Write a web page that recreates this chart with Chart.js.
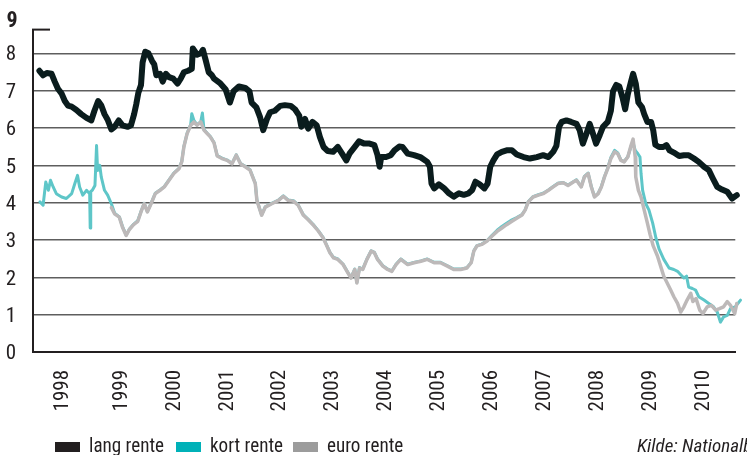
<!DOCTYPE html>
<html><head><meta charset="utf-8">
<script src="https://cdn.jsdelivr.net/npm/chart.js@4.4.1/dist/chart.umd.min.js"></script>
<style>html,body{margin:0;padding:0;background:#fff;}#wrap{position:relative;width:747px;height:455px;overflow:hidden;background:#fff}</style>
</head><body><div id="wrap"><canvas id="c" width="747" height="455"></canvas></div>
<script>
const FONT = '"Liberation Sans Narrow","Roboto Condensed","DejaVu Sans Condensed","Arial Narrow",sans-serif';
const seriesNames = ['lang rente', 'kort rente', 'euro rente'];
const yearTickPositions = [1997.89,1999,2000,2001,2002,2003,2004,2005,2006,2007,2008,2009,2010];
const yearTickLabels = ['1998','1999','2000','2001','2002','2003','2004','2005','2006','2007','2008','2009','2010'];
const yTicks = [0,1,2,3,4,5,6,7,8];
const yTopLabel = '9';
const sourceText = 'Kilde: Nationalbanken';

// [decimal year, percent]
const langRente = [
[1997.45,7.53],[1997.52,7.41],[1997.59,7.47],[1997.68,7.45],[1997.74,7.24],[1997.80,7.05],[1997.87,6.92],[1997.93,6.72],[1997.99,6.60],
[1998.06,6.57],[1998.15,6.48],[1998.24,6.37],[1998.34,6.27],[1998.43,6.20],[1998.49,6.46],[1998.56,6.72],[1998.62,6.60],[1998.68,6.37],[1998.74,6.22],[1998.81,5.96],[1998.87,6.03],[1998.95,6.20],
[1999.02,6.07],[1999.12,6.03],[1999.18,6.07],[1999.24,6.37],[1999.28,6.63],[1999.32,6.94],[1999.37,7.15],[1999.40,7.75],[1999.45,8.04],[1999.51,8.00],[1999.58,7.79],[1999.62,7.70],[1999.66,7.41],[1999.73,7.45],[1999.78,7.24],[1999.84,7.45],[1999.90,7.36],[1999.98,7.32],
[2000.06,7.19],[2000.12,7.32],[2000.18,7.49],[2000.26,7.53],[2000.33,7.58],[2000.35,8.13],[2000.43,7.96],[2000.50,8.00],[2000.54,8.09],[2000.59,7.83],[2000.65,7.49],[2000.71,7.41],[2000.75,7.32],[2000.87,7.19],[2000.97,7.03],
[2001.05,6.68],[2001.12,6.98],[2001.22,7.11],[2001.34,7.07],[2001.42,6.98],[2001.46,6.68],[2001.55,6.55],[2001.62,6.29],[2001.68,5.94],[2001.75,6.24],[2001.81,6.42],[2001.90,6.46],
[2002.00,6.59],[2002.09,6.61],[2002.20,6.59],[2002.28,6.50],[2002.36,6.33],[2002.40,6.03],[2002.47,6.24],[2002.53,5.98],[2002.61,6.16],[2002.69,6.07],[2002.75,5.76],[2002.82,5.49],[2002.90,5.38],
[2003.00,5.36],[2003.09,5.49],[2003.17,5.31],[2003.25,5.13],[2003.31,5.31],[2003.41,5.49],[2003.49,5.64],[2003.59,5.58],[2003.69,5.58],[2003.78,5.54],[2003.84,5.27],[2003.88,4.96],[2003.91,5.22],
[2004.00,5.22],[2004.09,5.27],[2004.16,5.40],[2004.25,5.50],[2004.31,5.49],[2004.41,5.31],[2004.53,5.27],[2004.66,5.21],[2004.78,5.09],[2004.83,4.96],[2004.86,4.51],[2004.91,4.38],
[2005.00,4.49],[2005.10,4.38],[2005.19,4.25],[2005.28,4.16],[2005.38,4.25],[2005.47,4.21],[2005.56,4.25],[2005.63,4.34],[2005.69,4.56],[2005.77,4.49],[2005.86,4.38],[2005.92,4.51],[2005.97,4.96],
[2006.03,5.13],[2006.10,5.29],[2006.19,5.36],[2006.28,5.40],[2006.38,5.40],[2006.47,5.29],[2006.60,5.22],[2006.72,5.18],[2006.85,5.22],[2006.97,5.27],
[2007.07,5.22],[2007.16,5.36],[2007.22,5.52],[2007.27,6.03],[2007.32,6.16],[2007.41,6.20],[2007.50,6.16],[2007.60,6.11],[2007.66,5.94],[2007.72,5.58],[2007.79,5.85],[2007.85,6.11],[2007.91,5.85],[2007.97,5.58],
[2008.04,5.81],[2008.10,6.03],[2008.19,6.16],[2008.25,6.46],[2008.29,6.98],[2008.35,7.15],[2008.41,7.11],[2008.47,6.81],[2008.52,6.50],[2008.57,6.90],[2008.63,7.24],[2008.67,7.45],[2008.72,7.19],[2008.77,6.68],[2008.84,6.55],[2008.88,6.37],[2008.94,6.16],
[2009.01,6.16],[2009.05,5.94],[2009.09,5.55],[2009.16,5.49],[2009.24,5.49],[2009.30,5.54],[2009.36,5.40],[2009.44,5.34],[2009.54,5.25],[2009.63,5.27],[2009.72,5.27],[2009.82,5.18],[2009.91,5.09],
[2010.01,4.96],[2010.10,4.87],[2010.18,4.64],[2010.26,4.42],[2010.35,4.35],[2010.45,4.29],[2010.54,4.11],[2010.63,4.20],[2010.71,4.22]
];

const kortRente = [
[1997.46,4.02],[1997.52,3.93],[1997.57,4.55],[1997.62,4.33],[1997.66,4.60],[1997.71,4.42],[1997.77,4.24],[1997.87,4.15],[1997.96,4.11],
[1998.06,4.24],[1998.12,4.51],[1998.17,4.73],[1998.21,4.42],[1998.27,4.20],[1998.34,4.33],[1998.40,4.24],[1998.41,3.32],[1998.42,4.30],[1998.45,4.33],[1998.50,4.46],[1998.53,5.53],[1998.55,4.86],[1998.59,5.00],[1998.62,4.68],[1998.68,4.33],[1998.74,4.20],[1998.81,3.97],[1998.87,3.72],[1998.96,3.62],
[1999.02,3.36],[1999.09,3.13],[1999.15,3.29],[1999.23,3.42],[1999.31,3.52],[1999.37,3.76],[1999.43,3.98],[1999.49,3.76],[1999.56,3.98],[1999.64,4.25],[1999.73,4.34],[1999.81,4.43],[1999.90,4.61],[1999.99,4.79],
[2000.09,4.92],[2000.14,5.10],[2000.18,5.50],[2000.24,5.85],[2000.31,6.10],[2000.33,6.38],[2000.37,6.20],[2000.43,6.08],[2000.50,6.17],[2000.53,6.40],[2000.56,5.96],[2000.62,5.86],[2000.68,5.77],[2000.75,5.61],[2000.81,5.26],[2000.90,5.19],
[2001.00,5.14],[2001.09,5.05],[2001.17,5.28],[2001.25,5.05],[2001.34,4.97],[2001.43,4.88],[2001.53,4.52],[2001.56,4.07],[2001.65,3.67],[2001.72,3.89],[2001.84,3.98],[2001.97,4.07],
[2002.06,4.18],[2002.15,4.07],[2002.25,4.05],[2002.34,3.94],[2002.44,3.67],[2002.53,3.55],[2002.62,3.42],[2002.72,3.25],[2002.81,3.07],[2002.87,2.89],[2002.94,2.67],
[2003.01,2.53],[2003.09,2.49],[2003.19,2.35],[2003.28,2.13],[2003.34,1.99],[2003.41,2.22],[2003.45,1.86],[2003.50,2.26],[2003.56,2.22],[2003.64,2.49],[2003.72,2.71],[2003.78,2.67],[2003.84,2.49],[2003.94,2.31],
[2004.03,2.22],[2004.11,2.17],[2004.19,2.35],[2004.28,2.49],[2004.41,2.35],[2004.53,2.40],[2004.66,2.44],[2004.78,2.49],[2004.91,2.40],
[2005.03,2.40],[2005.16,2.31],[2005.28,2.22],[2005.41,2.22],[2005.53,2.26],[2005.61,2.40],[2005.66,2.71],[2005.72,2.85],[2005.81,2.89],[2005.91,2.98],
[2006.00,3.12],[2006.10,3.26],[2006.19,3.36],[2006.28,3.45],[2006.38,3.54],[2006.47,3.60],[2006.57,3.68],[2006.63,3.81],[2006.69,4.03],[2006.78,4.16],[2006.88,4.21],[2006.97,4.25],
[2007.07,4.34],[2007.16,4.43],[2007.25,4.52],[2007.35,4.54],[2007.44,4.47],[2007.54,4.56],[2007.60,4.61],[2007.69,4.43],[2007.75,4.70],[2007.82,4.79],[2007.88,4.43],[2007.94,4.16],
[2008.01,4.25],[2008.07,4.43],[2008.13,4.70],[2008.19,4.92],[2008.25,5.21],[2008.32,5.40],[2008.38,5.33],[2008.44,5.14],[2008.50,5.10],[2008.57,5.23],[2008.63,5.50],[2008.67,5.60],[2008.71,5.40],[2008.76,5.31],[2008.80,5.22],[2008.82,4.78],[2008.85,4.33],[2008.91,3.97],[2008.97,3.80],
[2009.04,3.45],[2009.10,3.06],[2009.16,2.76],[2009.25,2.48],[2009.35,2.25],[2009.44,2.21],[2009.51,2.16],[2009.57,2.07],[2009.63,1.98],[2009.68,2.03],[2009.72,1.74],[2009.79,1.70],[2009.85,1.66],[2009.91,1.48],
[2010.01,1.39],[2010.10,1.30],[2010.19,1.21],[2010.26,1.07],[2010.32,0.80],[2010.38,0.94],[2010.45,0.98],[2010.51,1.16],[2010.60,1.21],[2010.70,1.39]
];

const euroRente = [
[1998.81,3.87],[1998.87,3.70],[1998.96,3.61],
[1999.02,3.34],[1999.09,3.12],[1999.15,3.28],[1999.23,3.41],[1999.31,3.50],[1999.37,3.75],[1999.43,3.97],[1999.49,3.75],[1999.56,3.97],[1999.64,4.24],[1999.73,4.33],[1999.81,4.42],[1999.90,4.60],[1999.99,4.78],
[2000.09,4.91],[2000.14,5.09],[2000.18,5.49],[2000.24,5.84],[2000.31,6.07],[2000.37,6.16],[2000.43,6.07],[2000.50,6.16],[2000.56,5.94],[2000.62,5.85],[2000.68,5.76],[2000.75,5.60],[2000.81,5.25],[2000.90,5.18],
[2001.00,5.13],[2001.09,5.04],[2001.17,5.27],[2001.25,5.04],[2001.34,4.96],[2001.43,4.87],[2001.53,4.51],[2001.56,4.06],[2001.65,3.66],[2001.72,3.88],[2001.84,3.97],[2001.97,4.06],
[2002.06,4.17],[2002.15,4.06],[2002.25,4.04],[2002.34,3.93],[2002.44,3.66],[2002.53,3.54],[2002.62,3.41],[2002.72,3.24],[2002.81,3.06],[2002.87,2.88],[2002.94,2.66],
[2003.01,2.52],[2003.09,2.48],[2003.19,2.34],[2003.28,2.12],[2003.34,1.98],[2003.41,2.21],[2003.45,1.85],[2003.50,2.25],[2003.56,2.21],[2003.64,2.48],[2003.72,2.70],[2003.78,2.66],[2003.84,2.48],[2003.94,2.30],
[2004.03,2.21],[2004.11,2.16],[2004.19,2.34],[2004.28,2.48],[2004.41,2.34],[2004.53,2.39],[2004.66,2.43],[2004.78,2.48],[2004.91,2.39],
[2005.03,2.39],[2005.16,2.30],[2005.28,2.21],[2005.41,2.21],[2005.53,2.25],[2005.61,2.39],[2005.66,2.70],[2005.72,2.84],[2005.81,2.88],[2005.91,2.97],
[2006.00,3.10],[2006.10,3.23],[2006.19,3.32],[2006.28,3.41],[2006.38,3.50],[2006.47,3.58],[2006.57,3.67],[2006.63,3.80],[2006.69,4.02],[2006.78,4.15],[2006.88,4.20],[2006.97,4.24],
[2007.07,4.33],[2007.16,4.42],[2007.25,4.51],[2007.35,4.53],[2007.44,4.46],[2007.54,4.55],[2007.60,4.60],[2007.69,4.42],[2007.75,4.69],[2007.82,4.78],[2007.88,4.42],[2007.94,4.15],
[2008.01,4.24],[2008.07,4.42],[2008.13,4.69],[2008.19,4.91],[2008.25,5.18],[2008.32,5.36],[2008.38,5.31],[2008.44,5.13],[2008.50,5.09],[2008.57,5.22],[2008.63,5.53],[2008.67,5.70],[2008.71,5.22],[2008.72,4.69],[2008.77,4.33],[2008.82,4.15],[2008.88,3.80],[2008.94,3.45],[2008.99,3.15],
[2009.05,2.84],[2009.13,2.57],[2009.19,2.30],[2009.25,2.03],[2009.30,1.89],[2009.38,1.66],[2009.44,1.48],[2009.51,1.30],[2009.57,1.07],[2009.63,1.21],[2009.69,1.39],[2009.76,1.57],[2009.80,1.35],[2009.86,1.43],[2009.93,1.12],[2009.99,1.03],
[2010.07,1.21],[2010.15,1.25],[2010.23,1.12],[2010.30,1.16],[2010.38,1.21],[2010.45,1.35],[2010.51,1.25],[2010.59,1.03],[2010.63,1.30],[2010.70,1.48]
];

const lineColors = ['#0a1c1d', '#5ec6c8', '#bdb9b9'];
const legendColors = ['#231f20', '#00b1b8', '#9c9c9c'];
const TEXT = '#231f20';

const toXY = arr => arr.map(p => ({x: p[0], y: p[1]}));

function narrowText(c, text, x, y, sx) {
  c.save();
  c.translate(x, y);
  c.scale(sx, 1);
  c.fillText(text, 0, 0);
  c.restore();
}

const extras = {
  id: 'extras',
  afterDraw(chart) {
    const c = chart.ctx, a = chart.chartArea;
    c.save();
    c.strokeStyle = TEXT; c.lineWidth = 2;
    c.beginPath(); c.moveTo(a.left - 1, a.top); c.lineTo(a.left + 17, a.top); c.stroke();
    c.fillStyle = TEXT;
    c.font = 'bold 22px ' + FONT;
    c.textAlign = 'right'; c.textBaseline = 'middle';
    c.fillText(yTopLabel, 17.5, 21);
    c.font = '21px ' + FONT;
    c.textAlign = 'left'; c.textBaseline = 'alphabetic';
    const boxX = [55, 176, 293];
    seriesNames.forEach((name, i) => {
      c.fillStyle = legendColors[i];
      c.fillRect(boxX[i], 442, 25, 10);
      c.fillStyle = TEXT;
      narrowText(c, name, boxX[i] + 34, 451.5, 0.91);
    });
    c.font = 'italic 19px ' + FONT;
    narrowText(c, sourceText, 637, 451.5, 1.0);
    c.restore();
  }
};

new Chart(document.getElementById('c').getContext('2d'), {
  type: 'line',
  data: {
    datasets: [
      {label: seriesNames[0], data: toXY(langRente), borderColor: lineColors[0], borderWidth: 6, order: 0, clip: {left: 0, top: 5, right: 10, bottom: 0}},
      {label: seriesNames[1], data: toXY(kortRente), borderColor: lineColors[1], borderWidth: 3, order: 2, clip: {left: 0, top: 5, right: 10, bottom: 0}},
      {label: seriesNames[2], data: toXY(euroRente), borderColor: lineColors[2], borderWidth: 3.5, order: 1, clip: {left: 0, top: 5, right: 10, bottom: 0}}
    ]
  },
  options: {
    responsive: false,
    animation: false,
    elements: {
      point: {radius: 0},
      line: {tension: 0, borderJoinStyle: 'round', borderCapStyle: 'round', fill: false}
    },
    layout: {padding: {top: 26, right: 7, left: 0, bottom: 0}},
    plugins: {legend: {display: false}, tooltip: {enabled: false}},
    scales: {
      x: {
        type: 'linear', min: 1997.329, max: 2010.601,
        afterBuildTicks: s => { s.ticks = yearTickPositions.map(v => ({value: v})); },
        afterFit: s => { s.height = 103; },
        grid: {display: false, drawTicks: false},
        border: {display: true, color: TEXT, width: 2},
        ticks: {
          autoSkip: false, maxRotation: 90, minRotation: 90, padding: 18, color: TEXT,
          font: {family: FONT, size: 21},
          callback: (v, i) => yearTickLabels[i]
        }
      },
      y: {
        min: 0, max: 8.633,
        afterBuildTicks: s => { s.ticks = yTicks.map(v => ({value: v})); },
        afterFit: s => { s.width = 33; },
        grid: {color: '#5e5e5e', lineWidth: ctx => (ctx.tick && ctx.tick.value === 0) ? 0 : 1.4, drawTicks: false},
        border: {display: true, color: TEXT, width: 2},
        ticks: {padding: 17, labelOffset: 2, color: TEXT, font: {family: FONT, size: 21}, callback: v => String(v)}
      }
    }
  },
  plugins: [extras]
});
</script>
</body></html>
